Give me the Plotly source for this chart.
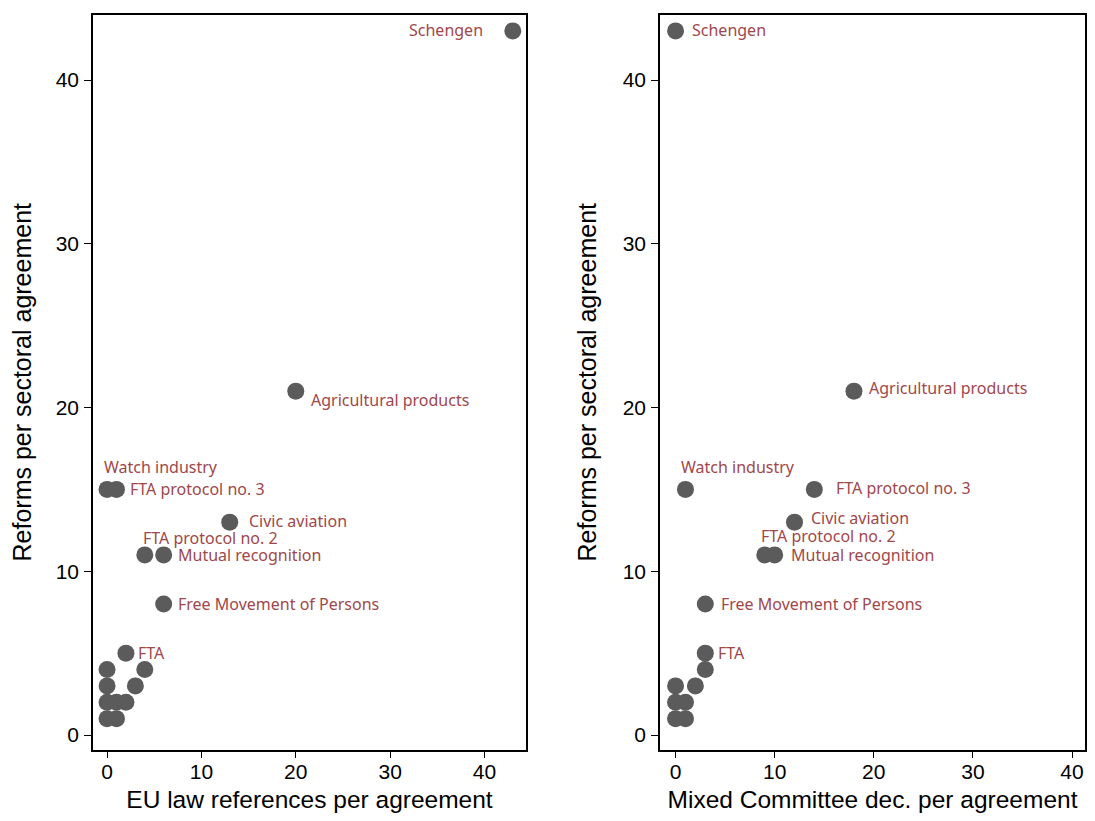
import plotly.graph_objects as go

# ---- data ----
labels = ["Schengen", "Agricultural products", "Watch industry", "FTA protocol no. 3",
          "Civic aviation", "FTA protocol no. 2", "Mutual recognition",
          "Free Movement of Persons", "FTA"]

# left panel: EU law references per agreement vs reforms
eu_law_lab = [43, 20, 0, 1, 13, 4, 6, 6, 2]
reforms_lab_left = [43, 21, 15, 15, 13, 11, 11, 8, 5]
eu_law_unl = [0, 4, 0, 3, 0, 1, 2, 0, 1]
reforms_unl_left = [4, 4, 3, 3, 2, 2, 2, 1, 1]

# right panel: Mixed Committee decisions per agreement vs reforms
mixed_lab = [0, 18, 1, 14, 12, 9, 10, 3, 3]
reforms_lab_right = [43, 21, 15, 15, 13, 11, 11, 8, 5]
mixed_unl = [3, 0, 2, 0, 1, 0, 1]
reforms_unl_right = [4, 3, 3, 2, 2, 1, 1]

tick_vals = [0, 10, 20, 30, 40]
tick_text = ["0", "10", "20", "30", "40"]

# ---- styles / layout ----
DOT = "#5b5b5b"
LAB = "#a0474b"
AXFONT = "Liberation Sans, Arial, Helvetica, sans-serif"
LABFONT = "Noto Sans, DejaVu Sans, sans-serif"

OFF = 8               # page body margin of the html page
W, H = 1095 - OFF, 821 - 2 * OFF

def xd(a, b):
    return [(a - OFF) / W, (b - OFF) / W]

def yd(top, bottom):
    return [1 - (bottom - OFF) / H, 1 - (top - OFF) / H]

# label placement (anchor, xshift, yshift) per label, per panel
pos_left = [("right", -28, 1), ("left", 13, -9), ("left", -5, 22), ("left", 12, 0),
            ("left", 17, 1), ("left", -4, 17), ("left", 12, 0), ("left", 12, 0), ("left", 10, 0)]
pos_right = [("left", 14, 1), ("left", 13, 3), ("left", -6, 22), ("left", 20, 1),
             ("left", 14, 4), ("left", -6, 19), ("left", 14, 0), ("left", 14, 0), ("left", 11, 0)]

fig = go.Figure()

for xa, ya, xl, yl, xu, yu in [("x", "y", eu_law_lab, reforms_lab_left, eu_law_unl, reforms_unl_left),
                               ("x2", "y2", mixed_lab, reforms_lab_right, mixed_unl, reforms_unl_right)]:
    fig.add_trace(go.Scatter(x=xu, y=yu, mode="markers", xaxis=xa, yaxis=ya,
                             marker=dict(size=17, color=DOT, line=dict(width=0)),
                             showlegend=False, hoverinfo="x+y"))
    fig.add_trace(go.Scatter(x=xl, y=yl, mode="markers", xaxis=xa, yaxis=ya,
                             marker=dict(size=17, color=DOT, line=dict(width=0)),
                             text=labels, showlegend=False))

for xa, ya, xl, yl, pos in [("x", "y", eu_law_lab, reforms_lab_left, pos_left),
                            ("x2", "y2", mixed_lab, reforms_lab_right, pos_right)]:
    for lab, xv, yv, (anc, dx, dy) in zip(labels, xl, yl, pos):
        fig.add_annotation(x=xv, y=yv, xref=xa, yref=ya, text=lab, showarrow=False,
                           xanchor=anc, yanchor="middle", xshift=dx, yshift=dy,
                           font=dict(family=LABFONT, size=16, color=LAB))

axis_common = dict(
    showline=True, linecolor="black", linewidth=1.5, mirror=True,
    ticks="outside", ticklen=7, tickwidth=1, tickcolor="black",
    tickvals=tick_vals, ticktext=tick_text, showgrid=False, zeroline=False,
    tickfont=dict(family=AXFONT, size=21, color="black"), automargin=False,
)
TITLEFONT = dict(family=AXFONT, size=25, color="black")
XTITLEFONT = dict(family=AXFONT, size=24.5, color="black")

fig.update_layout(
    width=W, height=H, margin=dict(l=0, r=0, t=0, b=0),
    paper_bgcolor="white", plot_bgcolor="white",
    xaxis=dict(domain=xd(93, 526), range=[-1.49, 44.4], anchor="y", ticklabelstandoff=-4,
               title=dict(text="EU law references per agreement", standoff=9, font=XTITLEFONT),
               **axis_common),
    yaxis=dict(domain=yd(15, 749.5), range=[-0.885, 43.97], anchor="x", ticklabelstandoff=1,
               title=dict(text="Reforms per sectoral agreement", standoff=19, font=TITLEFONT),
               **axis_common),
    xaxis2=dict(domain=xd(660, 1085), range=[-1.57, 41.31], anchor="y2", ticklabelstandoff=-4,
                title=dict(text="Mixed Committee dec. per agreement", standoff=9, font=XTITLEFONT),
                **axis_common),
    yaxis2=dict(domain=yd(15, 749.5), range=[-0.885, 43.97], anchor="x2", ticklabelstandoff=1,
                title=dict(text="Reforms per sectoral agreement", standoff=19, font=TITLEFONT),
                **axis_common),
)

fig.write_html("out.html")
